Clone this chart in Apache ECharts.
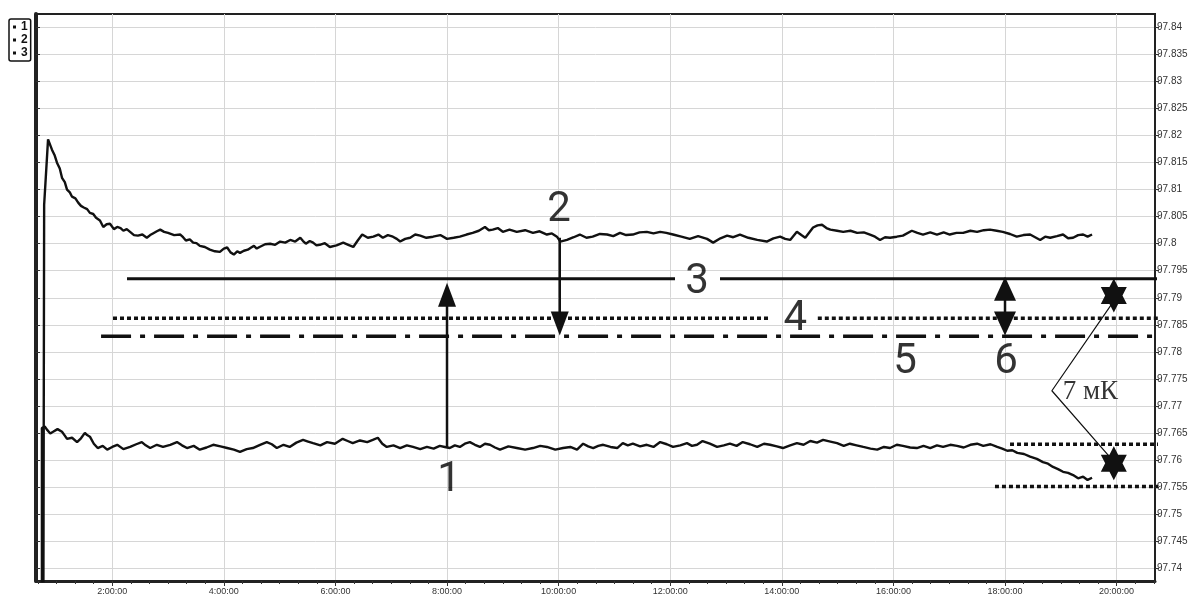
<!DOCTYPE html>
<html><head><meta charset="utf-8">
<script src="https://cdn.jsdelivr.net/npm/echarts@6/dist/echarts.min.js"></script>
<style>html,body{margin:0;padding:0;background:#fff}#c{width:1191px;height:596px}</style>
</head><body><div id="c"></div>
<script>
// ---- tick labels ----
const xTickHours = [2, 4, 6, 8, 10, 12, 14, 16, 18, 20];
const yTickValues = [97.74, 97.745, 97.75, 97.755, 97.76, 97.765, 97.77, 97.775, 97.78, 97.785,
  97.79, 97.795, 97.8, 97.805, 97.81, 97.815, 97.82, 97.825, 97.83, 97.835, 97.84];

// ---- series 1 (lower curve) ----
const hours1 = [0.74, 0.74, 0.79, 0.83, 0.89, 0.94, 1.02, 1.10, 1.15, 1.19, 1.28, 1.37, 1.44, 1.51, 1.55, 1.60,
  1.67, 1.74, 1.83, 1.91, 2.00, 2.09, 2.20, 2.32, 2.43, 2.53, 2.60, 2.68, 2.80, 2.91, 3.04, 3.16, 3.25, 3.34,
  3.46, 3.57, 3.69, 3.81, 3.94, 4.06, 4.18, 4.29, 4.41, 4.52, 4.65, 4.77, 4.86, 4.95, 5.07, 5.18, 5.30, 5.42,
  5.51, 5.60, 5.73, 5.85, 5.99, 6.13, 6.22, 6.31, 6.44, 6.57, 6.67, 6.76, 6.84, 6.92, 7.04, 7.16, 7.28, 7.39,
  7.52, 7.64, 7.76, 7.87, 7.96, 8.05, 8.14, 8.23, 8.32, 8.41, 8.50, 8.59, 8.68, 8.77, 8.86, 8.95, 9.10, 9.25,
  9.40, 9.54, 9.67, 9.79, 9.94, 10.08, 10.21, 10.33, 10.44, 10.53, 10.62, 10.71, 10.80, 10.93, 11.05, 11.15,
  11.24, 11.33, 11.46, 11.58, 11.70, 11.82, 11.94, 12.05, 12.18, 12.30, 12.39, 12.48, 12.58, 12.71, 12.84,
  12.96, 13.07, 13.19, 13.30, 13.43, 13.56, 13.68, 13.79, 13.91, 14.02, 14.15, 14.27, 14.39, 14.51, 14.63,
  14.74, 14.87, 14.99, 15.11, 15.22, 15.34, 15.46, 15.59, 15.71, 15.83, 15.94, 16.06, 16.17, 16.30, 16.42,
  16.54, 16.66, 16.78, 16.89, 17.02, 17.14, 17.26, 17.38, 17.50, 17.61, 17.74, 17.86, 17.95, 18.04, 18.13,
  18.22, 18.34, 18.45, 18.57, 18.68, 18.77, 18.86, 18.95, 19.04, 19.13, 19.22, 19.31, 19.40, 19.48, 19.56];
const temp1 = [97.70, 97.7659, 97.7662, 97.7656, 97.7649, 97.7652, 97.7657, 97.7652, 97.7645, 97.7639, 97.7641,
  97.7633, 97.7640, 97.7650, 97.7646, 97.7643, 97.7630, 97.7622, 97.7626, 97.7619, 97.7624, 97.7628, 97.7620,
  97.7624, 97.7629, 97.7633, 97.7627, 97.7622, 97.7628, 97.7624, 97.7628, 97.7633, 97.7627, 97.7622, 97.7626,
  97.7619, 97.7623, 97.7628, 97.7625, 97.7622, 97.7619, 97.7615, 97.7620, 97.7622, 97.7628, 97.7633, 97.7629,
  97.7622, 97.7628, 97.7624, 97.7632, 97.7637, 97.7634, 97.7631, 97.7627, 97.7633, 97.7630, 97.7639, 97.7635,
  97.7631, 97.7636, 97.7633, 97.7637, 97.7641, 97.7630, 97.7624, 97.7627, 97.7622, 97.7627, 97.7624, 97.7620,
  97.7624, 97.7621, 97.7626, 97.7624, 97.7622, 97.7627, 97.7624, 97.7630, 97.7633, 97.7628, 97.7624, 97.7630,
  97.7628, 97.7623, 97.7619, 97.7625, 97.7622, 97.7619, 97.7622, 97.7626, 97.7624, 97.7619, 97.7622, 97.7624,
  97.7619, 97.7630, 97.7625, 97.7622, 97.7626, 97.7628, 97.7624, 97.7622, 97.7631, 97.7627, 97.7630, 97.7625,
  97.7628, 97.7624, 97.7633, 97.7629, 97.7624, 97.7627, 97.7631, 97.7626, 97.7628, 97.7635, 97.7630, 97.7624,
  97.7627, 97.7630, 97.7626, 97.7633, 97.7629, 97.7624, 97.7630, 97.7628, 97.7625, 97.7622, 97.7627, 97.7631,
  97.7628, 97.7635, 97.7632, 97.7637, 97.7634, 97.7631, 97.7626, 97.7630, 97.7627, 97.7624, 97.7621, 97.7619,
  97.7624, 97.7622, 97.7628, 97.7626, 97.7623, 97.7622, 97.7626, 97.7622, 97.7627, 97.7624, 97.7628, 97.7626,
  97.7623, 97.7628, 97.7630, 97.7626, 97.7629, 97.7624, 97.7621, 97.7617, 97.7618, 97.7613, 97.7611, 97.7606,
  97.7602, 97.7596, 97.7593, 97.7587, 97.7583, 97.7578, 97.7576, 97.7572, 97.7566, 97.7569, 97.7563, 97.7567];

// ---- series 2 (upper curve) ----
const hours2 = [0.76, 0.78, 0.85, 0.92, 0.97, 1.01, 1.06, 1.10, 1.15, 1.19, 1.24, 1.28, 1.34, 1.39, 1.44, 1.49,
  1.55, 1.60, 1.66, 1.71, 1.78, 1.84, 1.90, 1.96, 2.03, 2.09, 2.15, 2.20, 2.26, 2.32, 2.39, 2.46, 2.54, 2.62,
  2.68, 2.73, 2.80, 2.86, 2.93, 3.00, 3.11, 3.22, 3.27, 3.32, 3.39, 3.45, 3.51, 3.57, 3.66, 3.75, 3.84, 3.93,
  4.00, 4.06, 4.12, 4.18, 4.24, 4.29, 4.36, 4.43, 4.49, 4.54, 4.59, 4.64, 4.74, 4.83, 4.92, 5.01, 5.10, 5.19,
  5.28, 5.37, 5.42, 5.47, 5.54, 5.60, 5.66, 5.72, 5.81, 5.90, 6.02, 6.14, 6.23, 6.32, 6.40, 6.48, 6.58, 6.68,
  6.77, 6.85, 6.94, 7.03, 7.10, 7.16, 7.25, 7.34, 7.43, 7.52, 7.63, 7.75, 7.88, 8.00, 8.12, 8.23, 8.35, 8.46,
  8.57, 8.68, 8.75, 8.82, 8.91, 9.00, 9.12, 9.25, 9.40, 9.54, 9.66, 9.79, 9.88, 9.97, 10.03, 10.15, 10.27,
  10.38, 10.50, 10.61, 10.74, 10.87, 10.98, 11.10, 11.21, 11.33, 11.45, 11.58, 11.70, 11.82, 11.93, 12.05,
  12.20, 12.35, 12.50, 12.66, 12.77, 12.90, 13.02, 13.13, 13.25, 13.40, 13.56, 13.73, 13.85, 13.97, 14.06,
  14.15, 14.27, 14.35, 14.42, 14.56, 14.64, 14.72, 14.80, 14.87, 14.99, 15.10, 15.23, 15.35, 15.47, 15.58,
  15.67, 15.76, 15.85, 15.94, 16.06, 16.17, 16.33, 16.43, 16.53, 16.66, 16.78, 16.90, 17.01, 17.13, 17.25,
  17.38, 17.50, 17.62, 17.73, 17.85, 17.96, 18.09, 18.21, 18.33, 18.45, 18.54, 18.63, 18.72, 18.81, 18.93,
  19.04, 19.13, 19.22, 19.31, 19.40, 19.48, 19.56];
const temp2 = [97.70, 97.8072, 97.8193, 97.8174, 97.8163, 97.8150, 97.8139, 97.8122, 97.8114, 97.8100, 97.8095,
  97.8087, 97.8084, 97.8076, 97.8070, 97.8067, 97.8064, 97.8057, 97.8055, 97.8048, 97.8043, 97.8031, 97.8036,
  97.8037, 97.8027, 97.8031, 97.8029, 97.8024, 97.8027, 97.8022, 97.8016, 97.8015, 97.8017, 97.8011, 97.8016,
  97.8019, 97.8023, 97.8026, 97.8022, 97.8020, 97.8016, 97.8017, 97.8012, 97.8006, 97.8008, 97.8002, 97.8001,
  97.7996, 97.7994, 97.7989, 97.7986, 97.7985, 97.7991, 97.7993, 97.7984, 97.7980, 97.7986, 97.7983, 97.7987,
  97.7989, 97.7993, 97.7996, 97.7991, 97.7994, 97.7999, 97.8000, 97.7998, 97.8004, 97.8002, 97.8007, 97.8004,
  97.8011, 97.8005, 97.8000, 97.8005, 97.8002, 97.7997, 97.7998, 97.8001, 97.7994, 97.7997, 97.8002, 97.7998,
  97.7994, 97.8006, 97.8017, 97.8011, 97.8013, 97.8017, 97.8011, 97.8016, 97.8013, 97.8009, 97.8004, 97.8009,
  97.8011, 97.8017, 97.8015, 97.8011, 97.8013, 97.8016, 97.8009, 97.8011, 97.8013, 97.8017, 97.8020, 97.8024,
  97.8031, 97.8025, 97.8026, 97.8029, 97.8022, 97.8026, 97.8022, 97.8025, 97.8020, 97.8023, 97.8017, 97.8019,
  97.8013, 97.8004, 97.8007, 97.8012, 97.8017, 97.8011, 97.8013, 97.8018, 97.8017, 97.8014, 97.8020, 97.8016,
  97.8017, 97.8021, 97.8022, 97.8019, 97.8022, 97.8020, 97.8017, 97.8013, 97.8009, 97.8014, 97.8009, 97.8002,
  97.8010, 97.8015, 97.8012, 97.8017, 97.8011, 97.8007, 97.8004, 97.8010, 97.8013, 97.8009, 97.8007, 97.8022,
  97.8016, 97.8011, 97.8030, 97.8034, 97.8035, 97.8029, 97.8026, 97.8024, 97.8022, 97.8024, 97.8020, 97.8021,
  97.8017, 97.8013, 97.8007, 97.8012, 97.8011, 97.8013, 97.8015, 97.8024, 97.8020, 97.8017, 97.8021, 97.8017,
  97.8021, 97.8017, 97.8020, 97.8020, 97.8024, 97.8022, 97.8025, 97.8026, 97.8024, 97.8022, 97.8018, 97.8013,
  97.8016, 97.8017, 97.8012, 97.8007, 97.8013, 97.8011, 97.8014, 97.8017, 97.8010, 97.8011, 97.8016, 97.8017,
  97.8013, 97.8017];

// ---- annotation levels (data units) ----
const level3 = 97.7935, level4 = 97.7862, level5 = 97.7829;
const level3Spans = [[2.265, 12.086], [12.892, 20.8]];
const level4Spans = [[2.014, 13.785], [14.645, 20.8]];
const level5Spans = [[1.80, 20.8]];
const shortDotted = [[18.09, 20.8, 97.7629], [17.82, 20.8, 97.7551]];
const arrowShafts = [[8.0, 97.7624, 97.7912], [10.02, 97.8011, 97.7846], [18.0, 97.7922, 97.7846]];
const arrowHeads = [[8.0, 97.7928, 'up'], [10.02, 97.7830, 'down'], [18.0, 97.7939, 'up'], [18.0, 97.7830, 'down']];
const starPoints = [[19.95, 97.7904], [19.95, 97.7594]];
const bracket = [[19.97, 97.7897], [18.84, 97.7728], [19.95, 97.7597]];
const numberLabels = [[8.036, 97.7562, '1'], [10.007, 97.8061, '2'], [12.48, 97.7928, '3'],
  [14.24, 97.7859, '4'], [16.21, 97.7781, '5'], [18.02, 97.7781, '6']];
const noteLabel = [19.53, 97.7725, '7 мК'];

// ---- build ----
function zip(h, v) { return h.map((x, i) => [x, v[i]]); }
function spans(list, y) {
  const out = [];
  list.forEach((s, i) => { if (i) out.push([(list[i - 1][1] + s[0]) / 2, '-']); out.push([s[0], y], [s[1], y]); });
  return out;
}
const xMinor = [];
for (let m = 40; m <= 1240; m += 20) xMinor.push(m / 60);

const X_MIN = 0.634, X_MAX = 20.688, Y_MIN = 97.7376, Y_MAX = 97.8425;
const black = '#111';
const triUp = 'path://M5,0L10,12L0,12Z', triDown = 'path://M0,0L10,0L5,12Z';
const star = 'path://M0,-100L28.9,-50L86.6,-50L57.7,0L86.6,50L28.9,50L0,100L-28.9,50L-86.6,50L-57.7,0L-86.6,-50L-28.9,-50Z';

const shaftData = [];
arrowShafts.forEach((a, i) => { if (i) shaftData.push([a[0], '-']); shaftData.push([a[0], a[1]], [a[0], a[2]]); });
const dotData = [];
shortDotted.forEach((d, i) => { if (i) dotData.push([d[0], '-']); dotData.push([d[0], d[2]], [d[1], d[2]]); });

const chart = echarts.init(document.getElementById('c'), null, { renderer: 'canvas' });
const lineBase = { type: 'line', showSymbol: false, symbol: 'none', animation: false, connectNulls: false };
chart.setOption({
  animation: false,
  backgroundColor: '#fff',
  grid: { left: 36, right: 36, top: 14, bottom: 15, show: true, borderColor: '#222', borderWidth: 2 },
  legend: {
    data: ['1', '2', '3'], orient: 'vertical', left: 9, top: 19, padding: [2, 3, 2, 4], itemGap: 1,
    itemWidth: 3, itemHeight: 3, icon: 'rect', selectedMode: false,
    textStyle: { fontSize: 12, fontWeight: 'bold', color: '#111', fontFamily: 'Liberation Sans' },
    borderColor: '#111', borderWidth: 1.5, borderRadius: 2, backgroundColor: '#fff'
  },
  xAxis: [{
    type: 'value', min: X_MIN, max: X_MAX, position: 'bottom',
    axisLine: { onZero: false, lineStyle: { color: '#222', width: 3 } },
    axisTick: { customValues: xTickHours, length: 5, lineStyle: { color: '#333' } },
    axisLabel: { customValues: xTickHours, formatter: v => Math.round(v) + ':00:00', fontSize: 9,
      color: '#333', margin: 6, fontFamily: 'Liberation Sans' },
    splitLine: { show: true, lineStyle: { color: '#d6d6d6', width: 1 } }
  }, {
    type: 'value', min: X_MIN, max: X_MAX, position: 'bottom',
    axisLine: { show: false, onZero: false },
    axisTick: { customValues: xMinor, length: 3, lineStyle: { color: '#333' } },
    axisLabel: { show: false }, splitLine: { show: false }
  }],
  yAxis: [{
    type: 'value', min: Y_MIN, max: Y_MAX, position: 'right',
    axisLine: { show: true, onZero: false, lineStyle: { color: '#222', width: 2 } },
    axisTick: { show: true, customValues: yTickValues, length: 4, lineStyle: { color: '#333' } },
    axisLabel: { customValues: yTickValues, formatter: v => String(parseFloat((+v).toFixed(3))),
      fontSize: 10, color: '#333', margin: 2, fontFamily: 'Liberation Sans' },
    splitLine: { show: true, lineStyle: { color: '#d6d6d6', width: 1 } }
  }, {
    type: 'value', min: Y_MIN, max: Y_MAX, position: 'left',
    axisLine: { show: true, onZero: false, lineStyle: { color: '#222', width: 4 } },
    axisTick: { show: true, inside: true, customValues: yTickValues, length: 4, lineStyle: { color: '#333' } },
    axisLabel: { show: false }, splitLine: { show: false }
  }],
  series: [
    Object.assign({}, lineBase, { name: '1', data: zip(hours1, temp1), lineStyle: { color: black, width: 2.4 }, itemStyle: { color: black }, z: 5 }),
    Object.assign({}, lineBase, { name: '2', data: zip(hours2, temp2), lineStyle: { color: black, width: 2.4 }, itemStyle: { color: black }, z: 5 }),
    Object.assign({}, lineBase, { name: '3', data: spans(level3Spans, level3), lineStyle: { color: black, width: 3 }, itemStyle: { color: black }, z: 4 }),
    Object.assign({}, lineBase, { name: 'L4', data: spans(level4Spans, level4), lineStyle: { color: black, width: 3.5, type: [4, 3] }, z: 4 }),
    Object.assign({}, lineBase, { name: 'L5', data: spans(level5Spans, level5), lineStyle: { color: black, width: 3.5, type: [30, 9, 5, 9] }, z: 4 }),
    Object.assign({}, lineBase, { name: 'dots', data: dotData, lineStyle: { color: black, width: 3.5, type: [4, 3] }, z: 4 }),
    Object.assign({}, lineBase, { name: 'shafts', data: shaftData, lineStyle: { color: black, width: 2.5 }, z: 6 }),
    Object.assign({}, lineBase, { name: 'bracket', data: bracket, lineStyle: { color: black, width: 1.2 }, z: 6 }),
    {
      name: 'heads', type: 'scatter', z: 7, animation: false,
      data: arrowHeads.map(a => ({
        value: [a[0], a[1]], symbol: a[2] === 'up' ? triUp : triDown,
        symbolSize: a[0] > 17 ? [22, 24] : [18, 24],
        symbolOffset: [0, a[2] === 'up' ? '50%' : '-50%']
      })),
      itemStyle: { color: black, opacity: 1 }
    },
    {
      name: 'stars', type: 'scatter', z: 7, animation: false, symbol: star, symbolSize: [26, 34],
      data: starPoints, itemStyle: { color: black, opacity: 1 }
    },
    {
      name: 'texts', type: 'scatter', z: 8, animation: false, symbolSize: 1,
      itemStyle: { color: 'rgba(0,0,0,0)' },
      data: numberLabels.map(t => ({ value: [t[0], t[1]], name: t[2] })).concat([{
        value: [noteLabel[0], noteLabel[1]], name: noteLabel[2],
        label: { fontFamily: 'Liberation Serif', fontSize: 27, fontWeight: 'normal' }
      }]),
      label: { show: true, position: 'inside', formatter: p => p.name, fontSize: 42,
        fontFamily: 'Roboto', fontWeight: 'normal', color: '#000' }
    }
  ]
});
</script>
</body></html>
